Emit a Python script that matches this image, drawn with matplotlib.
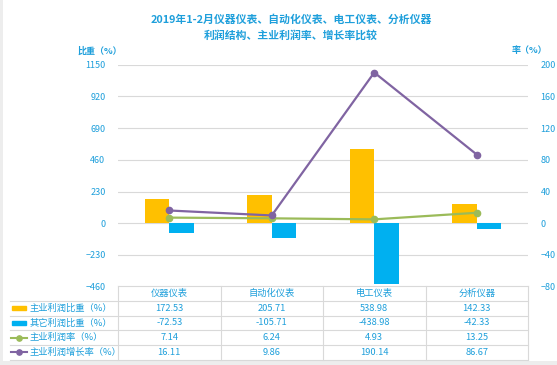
import numpy as np
import matplotlib
matplotlib.use("Agg")
import matplotlib.pyplot as plt
from matplotlib.lines import Line2D
from matplotlib.patches import Rectangle

plt.rcParams['font.family'] = ['Noto Sans CJK SC', 'DejaVu Sans']

# data
categories = ["仪器仪表", "自动化仪表", "电工仪表", "分析仪器"]
main_share = [172.53, 205.71, 538.98, 142.33]
other_share = [-72.53, -105.71, -438.98, -42.33]
main_rate = [7.14, 6.24, 4.93, 13.25]
main_growth = [16.11, 9.86, 190.14, 86.67]
series_names = ["主业利润比重（%）", "其它利润比重（%）", "主业利润率（%）", "主业利润增长率（%）"]
left_ticks = [-460, -230, 0, 230, 460, 690, 920, 1150]
right_ticks = [-80, -40, 0, 40, 80, 120, 160, 200]

c_yellow = "#FFC000"
c_blue = "#00B0F0"
c_green = "#9BBB59"
c_purple = "#8064A2"
c_text = "#1E9FDB"
c_grid = "#D9D9D9"

W, H = 557, 365
fig = plt.figure(figsize=(W / 100, H / 100), dpi=100)

# axes box in pixels
x0, x1 = 118, 528
y_top, y_bot = 64.7, 286.7
ax = fig.add_axes([x0 / W, 1 - y_bot / H, (x1 - x0) / W, (y_bot - y_top) / H])
ax2 = ax.twinx()

x = np.arange(len(categories))
bw = 0.238
ax.bar(x - bw / 2, main_share, bw, color=c_yellow, zorder=3)
ax.bar(x + bw / 2, other_share, bw, color=c_blue, zorder=3)
ax.set_xlim(-0.5, 3.5)
ax.set_ylim(-460, 1150)
ax.set_yticks(left_ticks)
ax.set_xticks([])
ax.yaxis.grid(True, color=c_grid, lw=0.8)
ax.set_axisbelow(True)

ax2.plot(x, main_rate, color=c_green, lw=1.6, marker='o', ms=4.5, zorder=4)
ax2.plot(x, main_growth, color=c_purple, lw=1.6, marker='o', ms=4.5, zorder=5)
ax2.set_ylim(-80, 200)
ax2.set_yticks(right_ticks)

for a in (ax, ax2):
    for s in a.spines.values():
        s.set_visible(False)
    a.tick_params(length=0, labelsize=6.5, labelcolor=c_text, pad=9)

# titles
fig.text(291 / W, 1 - 19.5 / H, "2019年1-2月仪器仪表、自动化仪表、电工仪表、分析仪器",
         ha='center', va='center', fontsize=7.8, color=c_text, fontweight='bold')
fig.text(291 / W, 1 - 35.5 / H, "利润结构、主业利润率、增长率比较",
         ha='center', va='center', fontsize=7.8, color=c_text, fontweight='bold')
fig.text(100 / W, 1 - 51 / H, "比重（%）", ha='center', va='center', fontsize=6.5, color=c_text, fontweight='bold')
fig.text(529 / W, 1 - 51 / H, "率（%）", ha='center', va='center', fontsize=6.5, color=c_text, fontweight='bold')

# data table under the chart
col_edges = [x0 + i * (x1 - x0) / 4 for i in range(5)]
row_lines = [286, 300.7, 315.5, 330.2, 345, 359.5]
lc = "#D9D9D9"


def fx(px):
    return px / W


def fy(py):
    return 1 - py / H


fig.add_artist(Line2D([fx(x0), fx(x1)], [fy(row_lines[0])] * 2, color=lc, lw=0.8))
for yy in row_lines[1:]:
    fig.add_artist(Line2D([fx(10), fx(x1)], [fy(yy)] * 2, color=lc, lw=0.8))
for xe in col_edges:
    fig.add_artist(Line2D([fx(xe)] * 2, [fy(row_lines[0]), fy(row_lines[-1])], color=lc, lw=0.8))

for i, cat in enumerate(categories):
    cx = (col_edges[i] + col_edges[i + 1]) / 2
    fig.text(fx(cx), fy((row_lines[0] + row_lines[1]) / 2), cat, ha='center', va='center',
             fontsize=6.7, color=c_text)

rows = [main_share, other_share, main_rate, main_growth]
colors = [c_yellow, c_blue, c_green, c_purple]
for r, (vals, name, col) in enumerate(zip(rows, series_names, colors)):
    cy = (row_lines[r + 1] + row_lines[r + 2]) / 2
    if r < 2:
        fig.add_artist(Rectangle((fx(12), fy(cy + 2)), 14 / W, 4 / H, color=col))
    else:
        fig.add_artist(Line2D([fx(11), fx(27)], [fy(cy)] * 2, color=col, lw=1.5))
        fig.add_artist(Line2D([fx(19)], [fy(cy)], color=col, marker='o', ms=3.8, lw=0))
    fig.text(fx(29.5), fy(cy), name, ha='left', va='center', fontsize=6.7, color=c_text)
    for i, v in enumerate(vals):
        cx = (col_edges[i] + col_edges[i + 1]) / 2
        fig.text(fx(cx), fy(cy), f"{v:.2f}", ha='center', va='center', fontsize=6.7, color=c_text)

# light frame around the picture
fig.add_artist(Rectangle((0, 0), 1, 4 / H, color="#EDEDED", lw=0))
fig.add_artist(Rectangle((0, 0), 3 / W, 1, color="#EDEDED", lw=0))

fig.savefig("out.png", dpi=100, facecolor="white")
